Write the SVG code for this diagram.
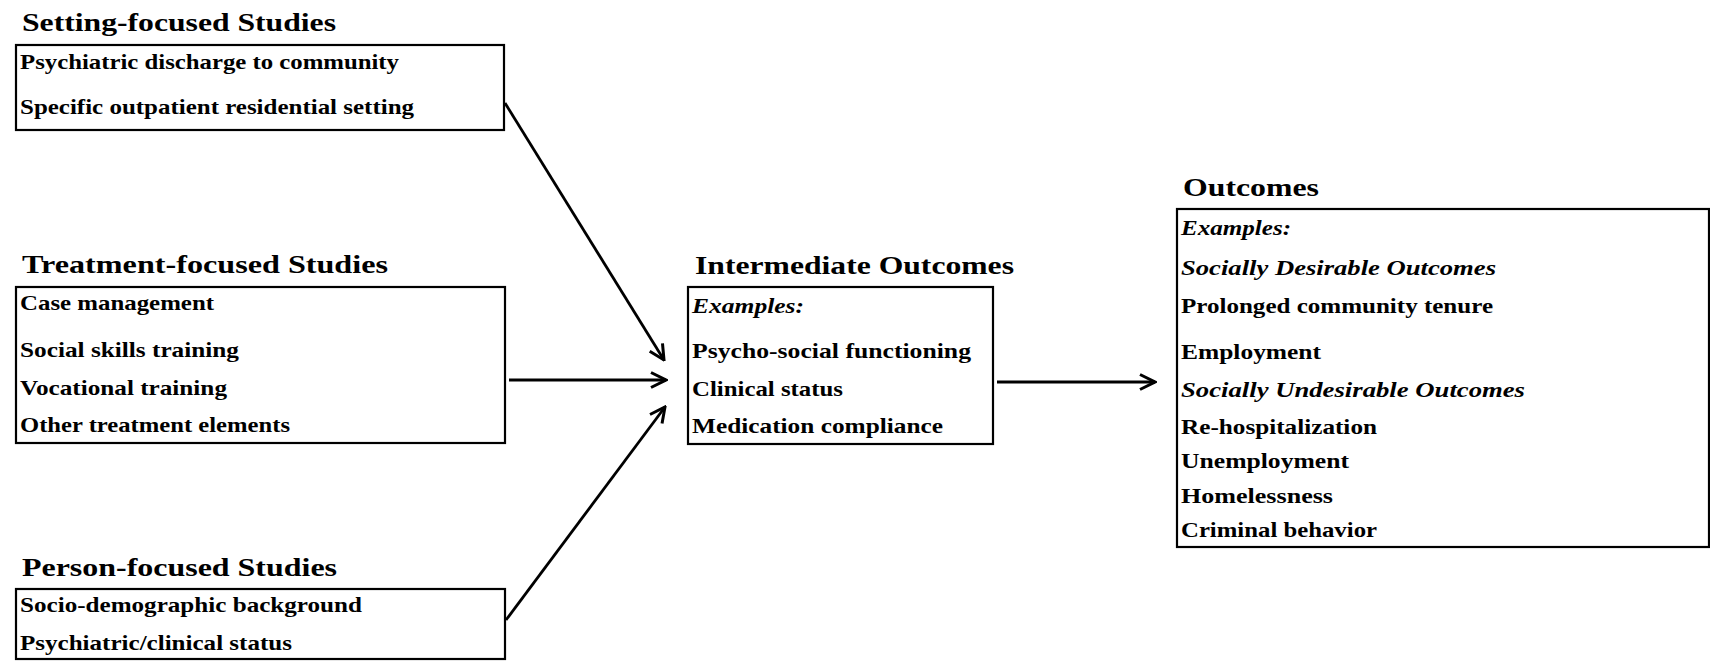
<svg xmlns="http://www.w3.org/2000/svg" width="1710" height="662" viewBox="0 0 1710 662">
<style>
text{font-family:"Liberation Serif","Times New Roman",serif;fill:#000;font-weight:bold}
.t{font-size:26px}
.i{font-size:21px}
.e{font-size:21px;font-style:italic}
.box{fill:none;stroke:#000;stroke-width:2.2}
.c{stroke:#000;stroke-width:2.8;fill:none}
</style>
<defs>
<marker id="ah" viewBox="0 0 12 12" refX="11" refY="6" markerWidth="18" markerHeight="18" markerUnits="userSpaceOnUse" orient="auto">
<path d="M1,1 L11,6 L1,11" fill="none" stroke="#000" stroke-width="2"/>
</marker>
</defs>
<rect width="1710" height="662" fill="#fff"/>
<g id="setting">
<text class="t" x="22" y="31" textLength="314" lengthAdjust="spacingAndGlyphs">Setting-focused Studies</text>
<rect class="box" x="16" y="45" width="488" height="85"/>
<text class="i" x="20" y="69" textLength="379" lengthAdjust="spacingAndGlyphs">Psychiatric discharge to community</text>
<text class="i" x="20" y="114" textLength="394" lengthAdjust="spacingAndGlyphs">Specific outpatient residential setting</text>
</g>
<g id="treatment">
<text class="t" x="22" y="273" textLength="366" lengthAdjust="spacingAndGlyphs">Treatment-focused Studies</text>
<rect class="box" x="16" y="287" width="489" height="156"/>
<text class="i" x="20" y="310" textLength="194" lengthAdjust="spacingAndGlyphs">Case management</text>
<text class="i" x="20" y="357" textLength="219" lengthAdjust="spacingAndGlyphs">Social skills training</text>
<text class="i" x="20" y="395" textLength="207" lengthAdjust="spacingAndGlyphs">Vocational training</text>
<text class="i" x="20" y="432" textLength="270" lengthAdjust="spacingAndGlyphs">Other treatment elements</text>
</g>
<g id="person">
<text class="t" x="22" y="576" textLength="315" lengthAdjust="spacingAndGlyphs">Person-focused Studies</text>
<rect class="box" x="16" y="589" width="489" height="70"/>
<text class="i" x="20" y="612" textLength="342" lengthAdjust="spacingAndGlyphs">Socio-demographic background</text>
<text class="i" x="20" y="650" textLength="272" lengthAdjust="spacingAndGlyphs">Psychiatric/clinical status</text>
</g>
<g id="intermediate">
<text class="t" x="695" y="274" textLength="319" lengthAdjust="spacingAndGlyphs">Intermediate Outcomes</text>
<rect class="box" x="688" y="287" width="305" height="157"/>
<text class="e" x="692" y="313" textLength="112" lengthAdjust="spacingAndGlyphs">Examples:</text>
<text class="i" x="692" y="358" textLength="279" lengthAdjust="spacingAndGlyphs">Psycho-social functioning</text>
<text class="i" x="692" y="396" textLength="151" lengthAdjust="spacingAndGlyphs">Clinical status</text>
<text class="i" x="692" y="433" textLength="251" lengthAdjust="spacingAndGlyphs">Medication compliance</text>
</g>
<g id="outcomes">
<text class="t" x="1183" y="196" textLength="136" lengthAdjust="spacingAndGlyphs">Outcomes</text>
<rect class="box" x="1177" y="209" width="532" height="338"/>
<text class="e" x="1181" y="235" textLength="110" lengthAdjust="spacingAndGlyphs">Examples:</text>
<text class="e" x="1181" y="275" textLength="315" lengthAdjust="spacingAndGlyphs">Socially Desirable Outcomes</text>
<text class="i" x="1181" y="313" textLength="312" lengthAdjust="spacingAndGlyphs">Prolonged community tenure</text>
<text class="i" x="1181" y="359" textLength="140" lengthAdjust="spacingAndGlyphs">Employment</text>
<text class="e" x="1181" y="397" textLength="344" lengthAdjust="spacingAndGlyphs">Socially Undesirable Outcomes</text>
<text class="i" x="1181" y="434" textLength="196" lengthAdjust="spacingAndGlyphs">Re-hospitalization</text>
<text class="i" x="1181" y="468" textLength="168" lengthAdjust="spacingAndGlyphs">Unemployment</text>
<text class="i" x="1181" y="503" textLength="152" lengthAdjust="spacingAndGlyphs">Homelessness</text>
<text class="i" x="1181" y="537" textLength="196" lengthAdjust="spacingAndGlyphs">Criminal behavior</text>
</g>
<g id="connectors">
<line class="c" x1="505" y1="103" x2="664" y2="360" marker-end="url(#ah)"/>
<line class="c" x1="509" y1="380" x2="666" y2="380" marker-end="url(#ah)"/>
<line class="c" x1="506" y1="620" x2="665" y2="407" marker-end="url(#ah)"/>
<line class="c" x1="997" y1="382" x2="1155" y2="382" marker-end="url(#ah)"/>
</g>
</svg>
